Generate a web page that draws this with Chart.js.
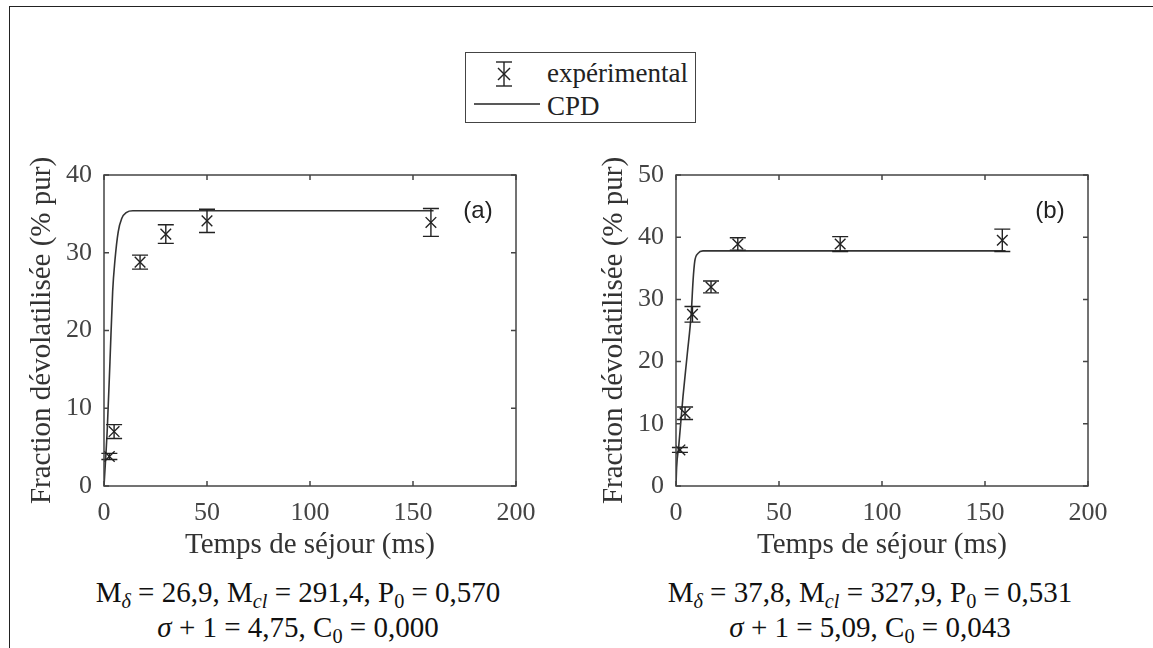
<!DOCTYPE html>
<html>
<head>
<meta charset="utf-8">
<script src="https://cdn.jsdelivr.net/npm/chart.js@4.4.1/dist/chart.umd.min.js"></script>
<style>
  html, body { margin: 0; padding: 0; background: #fff; }
  body { width: 1153px; height: 648px; position: relative; overflow: hidden; font-family: "Liberation Serif", serif; }
  #frame { position: absolute; left: 9px; top: 6px; width: 1160px; height: 660px; border-left: 1.5px solid #222; border-top: 1.5px solid #222; }
  canvas { position: absolute; }
  #panelA { left: 0; top: 120px; }
  #panelB { left: 572px; top: 120px; }
  .note { position: absolute; width: 560px; text-align: center; font-size: 29px; line-height: 32px; color: #111; white-space: nowrap; }
  .note sub { font-size: 70%; line-height: 0; vertical-align: -0.3em; }
  #legend { position: absolute; left: 465px; top: 52px; width: 229px; height: 69px; border: 1.5px solid #444; }
  #legend .txt { position: absolute; left: 81px; font-size: 27px; line-height: 30px; color: #222; }
  #legend svg { position: absolute; left: 0; top: 0; }
</style>
</head>
<body>
<div id="frame"></div>

<div id="legend">
  <svg width="229" height="69">
    <g stroke="#222" stroke-width="1.4" fill="none">
      <line x1="38" y1="9" x2="38" y2="33"/>
      <line x1="30" y1="9" x2="46" y2="9"/>
      <line x1="30" y1="33" x2="46" y2="33"/>
      <line x1="32" y1="15" x2="44" y2="27"/>
      <line x1="44" y1="15" x2="32" y2="27"/>
      <line x1="8" y1="51" x2="74" y2="51"/>
    </g>
  </svg>
  <div class="txt" style="top:5px">expérimental</div>
  <div class="txt" style="top:38px">CPD</div>
</div>

<canvas id="panelA" width="560" height="446"></canvas>
<canvas id="panelB" width="560" height="446"></canvas>

<div class="note" style="left:18px; top:576px">M<sub><i>δ</i></sub> = 26,9, M<sub><i>cl</i></sub> = 291,4, P<sub>0</sub> = 0,570</div>
<div class="note" style="left:18px; top:611px"><i>σ</i> + 1 = 4,75, C<sub>0</sub> = 0,000</div>
<div class="note" style="left:590px; top:576px">M<sub><i>δ</i></sub> = 37,8, M<sub><i>cl</i></sub> = 327,9, P<sub>0</sub> = 0,531</div>
<div class="note" style="left:590px; top:611px"><i>σ</i> + 1 = 5,09, C<sub>0</sub> = 0,043</div>

<script>
// panel (a) - experimental points
var timeA = [2.6, 4.9, 17.5, 30.0, 50.0, 158.7];
var fracA = [3.8, 7.0, 28.8, 32.4, 34.1, 33.9];
var errA = [0.4, 0.9, 0.9, 1.2, 1.5, 1.8];
// panel (a) - CPD model curve
var cpdTimeA = [0, 0.8, 1.6, 2.9, 4.2, 5.3, 6.9, 8.6, 11.0, 14.0, 20, 160];
var cpdFracA = [0, 3.5, 7.4, 16.0, 25.0, 29.0, 32.7, 34.4, 35.2, 35.4, 35.4, 35.4];

// panel (b) - experimental points
var timeB = [1.9, 4.4, 8.0, 17.0, 30.0, 79.7, 158.4];
var fracB = [5.8, 11.7, 27.6, 32.0, 38.9, 38.9, 39.5];
var errB = [0.4, 1.0, 1.25, 0.95, 1.0, 1.2, 1.8];
// panel (b) - CPD model curve
var cpdTimeB = [0, 0.3, 1.3, 3.4, 5.5, 7.4, 8.3, 9.1, 10.7, 13.1, 20, 160];
var cpdFracB = [0, 3.0, 6.3, 14.4, 21.3, 27.8, 33.1, 36.1, 37.4, 37.8, 37.8, 37.8];

var xTicks = [0, 50, 100, 150, 200];
var yTicksA = [0, 10, 20, 30, 40];
var yTicksB = [0, 10, 20, 30, 40, 50];

// matlab-like box with inward ticks on all four sides + panel tag
const boxPlugin = {
  id: 'box',
  afterDraw(chart, args, opts) {
    const { ctx, chartArea: a, scales: { x, y } } = chart;
    ctx.save();
    ctx.strokeStyle = '#444';
    ctx.lineWidth = 1.5;
    ctx.strokeRect(a.left, a.top, a.width, a.height);
    ctx.beginPath();
    x.ticks.forEach(t => {
      const px = x.getPixelForValue(t.value);
      ctx.moveTo(px, a.bottom); ctx.lineTo(px, a.bottom - 5);
      ctx.moveTo(px, a.top); ctx.lineTo(px, a.top + 5);
    });
    y.ticks.forEach(t => {
      const py = y.getPixelForValue(t.value);
      ctx.moveTo(a.left, py); ctx.lineTo(a.left + 5, py);
      ctx.moveTo(a.right, py); ctx.lineTo(a.right - 5, py);
    });
    ctx.stroke();
    ctx.fillStyle = '#222';
    ctx.font = '24px "Liberation Sans"';
    ctx.textAlign = 'center';
    ctx.textBaseline = 'middle';
    ctx.fillText(opts.tag, a.right - 38, a.top + 36);
    ctx.restore();
  }
};

// vertical error bars with caps, positioned through the scales
const errorBarPlugin = {
  id: 'errbars',
  afterDatasetsDraw(chart, args, opts) {
    const { ctx, scales: { x, y } } = chart;
    ctx.save();
    ctx.strokeStyle = '#222';
    ctx.lineWidth = 1.4;
    ctx.beginPath();
    opts.times.forEach((t, i) => {
      const px = x.getPixelForValue(t);
      const top = y.getPixelForValue(opts.values[i] + opts.errors[i]);
      const bot = y.getPixelForValue(opts.values[i] - opts.errors[i]);
      ctx.moveTo(px, top); ctx.lineTo(px, bot);
      ctx.moveTo(px - 8, top); ctx.lineTo(px + 8, top);
      ctx.moveTo(px - 8, bot); ctx.lineTo(px + 8, bot);
    });
    ctx.stroke();
    ctx.restore();
  }
};

function makePanel(id, times, values, errors, cpdT, cpdF, yTicks, tag) {
  const serif = '"Liberation Serif", "Times New Roman", serif';
  return new Chart(document.getElementById(id), {
    type: 'scatter',
    data: {
      datasets: [{
        label: 'expérimental',
        data: times.map((t, i) => ({ x: t, y: values[i] })),
        pointStyle: 'crossRot',
        pointRadius: 7.5,
        pointBorderWidth: 1.4,
        borderColor: '#222',
        backgroundColor: '#222',
        showLine: false
      }, {
        label: 'CPD',
        data: cpdT.map((t, i) => ({ x: t, y: cpdF[i] })),
        showLine: true,
        cubicInterpolationMode: 'monotone',
        borderColor: '#333',
        borderWidth: 1.6,
        pointRadius: 0
      }]
    },
    options: {
      responsive: false,
      animation: false,
      devicePixelRatio: 1,
      layout: { padding: { left: 10, right: 44, top: 55, bottom: 0 } },
      plugins: {
        legend: { display: false },
        tooltip: { enabled: false },
        box: { tag: tag },
        errbars: { times: times, values: values, errors: errors }
      },
      scales: {
        x: {
          type: 'linear',
          min: xTicks[0],
          max: xTicks[xTicks.length - 1],
          afterBuildTicks: s => { s.ticks = xTicks.map(v => ({ value: v })); },
          afterFit: s => { s.height = 80; },
          grid: { display: false, drawTicks: false },
          border: { display: false },
          ticks: { color: '#444', padding: 12, font: { family: serif, size: 26 } },
          title: {
            display: true, text: 'Temps de séjour (ms)', color: '#333',
            font: { family: serif, size: 29 }, padding: { top: 0, bottom: 3 }
          }
        },
        y: {
          type: 'linear',
          min: yTicks[0],
          max: yTicks[yTicks.length - 1],
          afterBuildTicks: s => { s.ticks = yTicks.map(v => ({ value: v })); },
          afterFit: s => { s.width = 94; },
          grid: { display: false, drawTicks: false },
          border: { display: false },
          ticks: { color: '#444', padding: 12, font: { family: serif, size: 26 } },
          title: {
            display: true, text: 'Fraction dévolatilisée (% pur)', color: '#333',
            font: { family: serif, size: 29 }, padding: { top: 15, bottom: 0 }
          }
        }
      }
    },
    plugins: [boxPlugin, errorBarPlugin]
  });
}

makePanel('panelA', timeA, fracA, errA, cpdTimeA, cpdFracA, yTicksA, '(a)');
makePanel('panelB', timeB, fracB, errB, cpdTimeB, cpdFracB, yTicksB, '(b)');
</script>
</body>
</html>
